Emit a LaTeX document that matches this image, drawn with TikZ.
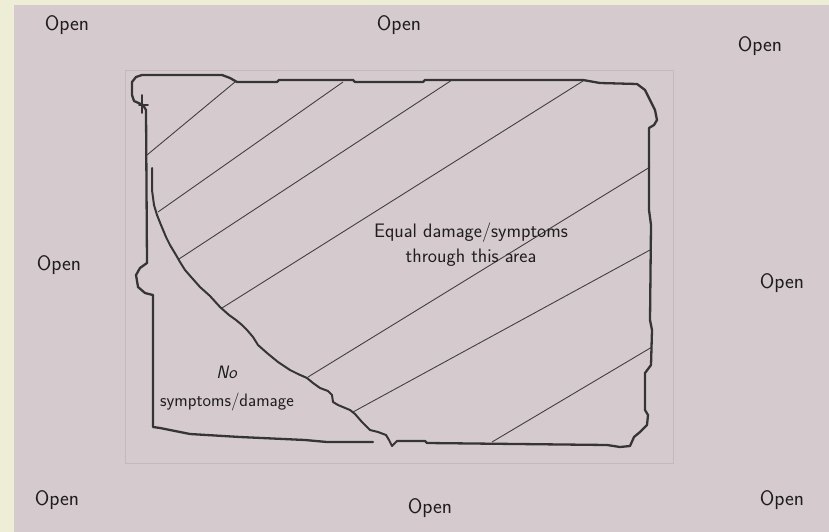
\documentclass[tikz,border=0pt]{standalone}
\definecolor{paperbeige}{HTML}{EEEED6}
\definecolor{fieldmauve}{HTML}{D5CBCF}
\definecolor{framegray}{HTML}{C3BABE}
\definecolor{inkblack}{HTML}{1E1E1E}
\usetikzlibrary{positioning}

\begin{document}
\begin{tikzpicture}[x=1pt,y=-1pt,font=\sffamily]
        \tikzset{
            openlbl/.style={
                text=inkblack,
                font=\sffamily\fontsize{21}{24}\selectfont,
                inner sep=0pt
            },
            zonelbl/.style={
                openlbl,
                align=center,
                font=\sffamily\fontsize{19.5}{25}\selectfont
            },
            fieldedge/.style={
                draw=inkblack!90,
                line width=2.3pt,
                line join=round,
                line cap=round
            },
            zoneedge/.style={
                fieldedge,
                line width=2pt
            },
            hatchline/.style={
                draw=inkblack!85,
                line width=0.9pt
            }
        }

        \fill[paperbeige] (0,0) rectangle (829,532);
        \fill[fieldmauve] (14,5) rectangle (829,532);
        \useasboundingbox (0,0) rectangle (829,532);
        \draw[framegray,line width=1pt] (125,71) rectangle (673,463);

        \node[openlbl] (opentl) at (67,25) {Open};
        \node[openlbl] (opentc) at (399,25) {Open};
        \node[openlbl] (opentr) at (760,46) {Open};
        \node[openlbl] (openml) at (59,265) {Open};
        \node[openlbl] (openmr) at (782,283) {Open};
        \node[openlbl] (openbl) at (57,500) {Open};
        \node[openlbl] (openbc) at (430,508) {Open};
        \node[openlbl] (openbr) at (782,500) {Open};

        \foreach \xa/\ya/\xb/\yb in {147/155/235/82, 158/212/343/82, 179/259/452/80,
                222/308/583/81, 308/377/650/167, 353/412/650/250, 492/442/652/347}
            \draw[hatchline] (\xa,\ya) -- (\xb,\yb);

        \draw[fieldedge] (373,442) -- (327,442) -- (305,440) -- (240,437) -- (190,434)
            -- (160,428) -- (153,427) -- (153,295) -- (145,293) -- (138,287)
            -- (136,275) -- (140,268) -- (147,263) -- (146,110) -- (143,105)
            -- (134,101) -- (132,95) -- (132,82) -- (136,77) -- (142,75)
            -- (222,75) -- (230,78) -- (237,82) -- (277,82) -- (279,80)
            -- (353,80) -- (355,82) -- (423,82) -- (425,80) -- (583,80)
            -- (600,83) -- (637,84) -- (645,90) -- (650,100) -- (655,110)
            -- (657,120) -- (654,125) -- (649,128) -- (649,210) -- (651,225)
            -- (650,320) -- (652,330) -- (651,365) -- (645,373) -- (645,410)
            -- (648,415) -- (647,425) -- (640,432) -- (634,437) -- (630,446)
            -- (620,447) -- (607,445) -- (427,443) -- (425,441) -- (397,441);
        \draw[fieldedge,line width=1.6pt] (142,95) -- (142,113) (139,105) -- (148,105);

        \draw[zoneedge] (152,168) -- (152,190) -- (154,205) -- (157,215) -- (161,225)
            -- (166,237) -- (170,245) -- (176,255) -- (180,262) -- (185,270)
            -- (192,278) -- (200,287) -- (210,296) -- (220,307) -- (229,315)
            -- (236,320) -- (242,325) -- (247,330) -- (253,337) -- (258,345)
            -- (267,353) -- (278,362) -- (290,370) -- (298,374) -- (307,378)
            -- (313,383) -- (320,388) -- (328,391) -- (332,395) -- (333,402)
            -- (338,405) -- (350,410) -- (355,414) -- (362,422) -- (370,430)
            -- (378,432) -- (386,435) -- (389,440) -- (392,446) -- (397,441);

        \node[zonelbl] (equalzone) at (471,245) {Equal damage/symptoms\\through this area};
        \node[zonelbl,font=\sffamily\fontsize{18}{28}\selectfont] (nozone) at (227,388)
            {\textit{No}\\symptoms/damage};
    \end{tikzpicture}
\end{document}
